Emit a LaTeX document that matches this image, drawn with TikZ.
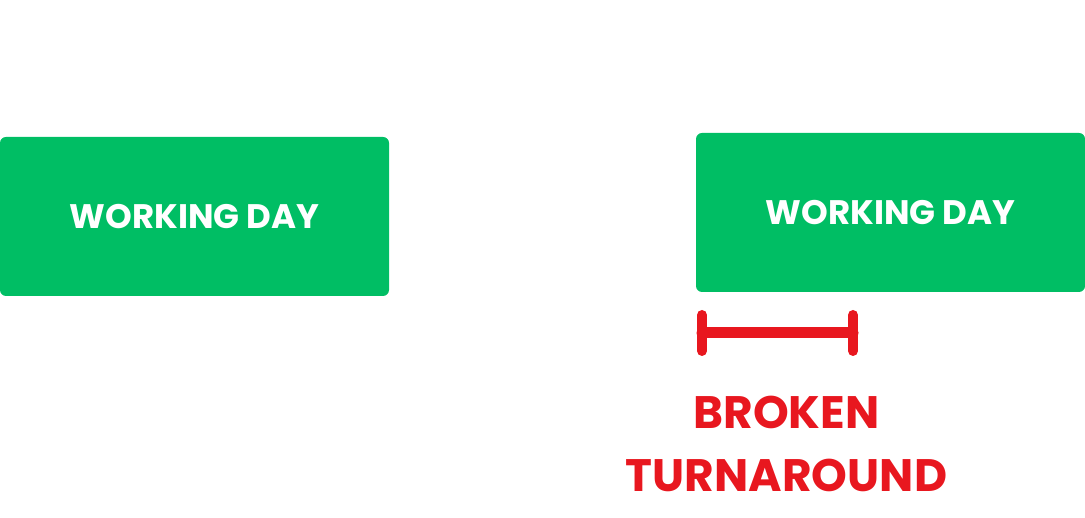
\documentclass[tikz,border=0pt]{standalone}
\usepackage{fontspec}
\setmainfont{Poppins}
\usepackage{xcolor}
\usetikzlibrary{positioning}
\definecolor{dayGreen}{HTML}{00BE64}
\definecolor{brokenRed}{HTML}{E8171F}
\tikzset{
  daybox/.style={rectangle, rounded corners=6pt, fill=dayGreen, text=white,
    minimum width=389pt, minimum height=159pt, inner sep=0pt,
    font=\bfseries\fontsize{34}{40}\selectfont},
  gapbar/.style={draw=brokenRed, line width=11pt, line cap=round},
  gaptext/.style={text=brokenRed, align=center, inner sep=0pt,
    font=\bfseries\fontsize{45.5}{63}\selectfont},
  every picture/.style={line cap=round, line join=round}
}

\begin{document}
\begin{tikzpicture}[x=1pt,y=1pt]
  \useasboundingbox (0,0) rectangle (1085,518);

  % working days
  \node[daybox] (dayA) at (194.5,301.5) {WORKING DAY};
  \node[daybox] (dayB) at (890.5,305.5) {WORKING DAY};

  % bracket under the second day
  \coordinate (barL) at (702,185);
  \coordinate (barR) at (853,185);
  \draw[gapbar] (barL) -- (barR);
  \draw[gapbar, line width=10pt] ([yshift=18pt]barL) -- ([yshift=-18pt]barL);
  \draw[gapbar, line width=10pt] ([yshift=18pt]barR) -- ([yshift=-18pt]barR);

  % label
  \node[gaptext, anchor=base] (broken) at (786.5,26) {BROKEN\\TURNAROUND};
\end{tikzpicture}
\end{document}
